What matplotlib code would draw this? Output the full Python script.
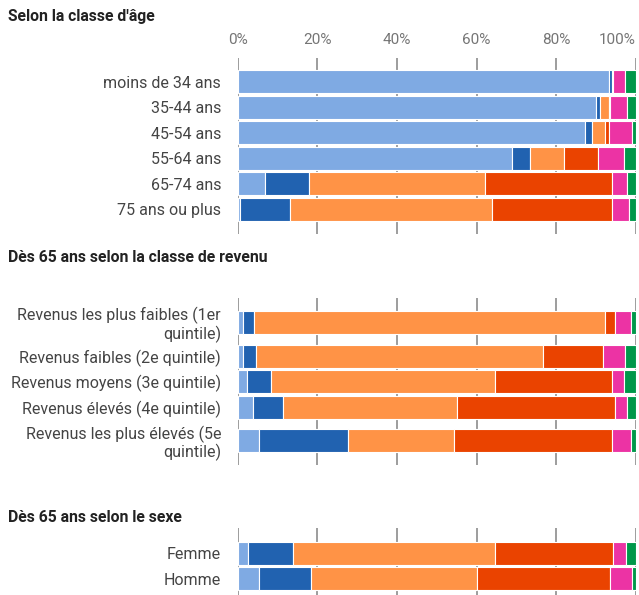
import numpy as np
import matplotlib.pyplot as plt

plt.rcParams['font.family'] = ['Roboto', 'DejaVu Sans']

colors = ["#7faae3", "#2162b0", "#ff9346", "#ea4300", "#ec33a4", "#00984a"]

age_labels = ["moins de 34 ans", "35-44 ans", "45-54 ans", "55-64 ans",
              "65-74 ans", "75 ans ou plus"]
age_values = [
    [93.1, 0.75, 0.35, 0.15, 3.0, 2.7],
    [90.0, 0.9, 2.3, 0.35, 4.3, 2.2],
    [87.1, 1.9, 3.2, 1.0, 5.8, 1.0],
    [68.9, 4.4, 8.7, 8.45, 6.6, 2.9],
    [6.9, 11.0, 44.2, 31.8, 3.85, 2.2],
    [0.6, 12.55, 50.7, 30.0, 4.5, 1.7],
]

income_labels = ["Revenus les plus faibles (1er\nquintile)",
                 "Revenus faibles (2e quintile)",
                 "Revenus moyens (3e quintile)",
                 "Revenus élevés (4e quintile)",
                 "Revenus les plus élevés (5e\nquintile)"]
income_values = [
    [1.4, 2.8, 88.0, 2.6, 4.0, 1.2],
    [1.3, 3.35, 72.1, 14.9, 5.6, 2.7],
    [2.4, 6.0, 56.15, 29.4, 3.1, 2.9],
    [3.9, 7.5, 43.7, 39.7, 3.0, 2.2],
    [5.4, 22.4, 26.5, 39.7, 4.7, 1.3],
]

sex_labels = ["Femme", "Homme"]
sex_values = [
    [2.7, 11.3, 50.6, 29.5, 3.5, 2.4],
    [5.4, 13.1, 41.5, 33.5, 5.6, 0.9],
]

tick_values = [0, 20, 40, 60, 80, 100]

W, H = 639, 595
fig = plt.figure(figsize=(W / 100, H / 100), dpi=100)


def section(title, title_y, top, bottom, labels, values, pad, top_ticks=False):
    fig.text(8 / W, 1 - title_y / H, title, fontsize=11.3, fontweight='bold',
             color='#222222', va='center', ha='left')
    left_px, right_px = 237.7, 636
    ax = fig.add_axes([left_px / W, 1 - bottom / H,
                       (right_px - left_px) / W, (bottom - top) / H])
    # y axis works in pixels so that rows keep a fixed height
    heights = np.array([42.0 if '\n' in lab else 25.4 for lab in labels])
    centers = top + pad + np.cumsum(heights) - heights / 2
    ax.set_ylim(bottom, top)
    ax.set_xlim(0, 100)

    vals = np.array(values)
    start = np.zeros(len(labels))
    for k in range(vals.shape[1]):
        ax.barh(centers, vals[:, k], left=start, height=23, color=colors[k],
                edgecolor='white', linewidth=0.8)
        start += vals[:, k]

    ax.set_yticks(centers, labels, fontsize=11.5, color='#444444')
    for lab in ax.get_yticklabels():
        lab.set_multialignment('right')
        lab.set_linespacing(1.1)
    ax.set_xticks(tick_values)
    ax.grid(axis='x', color='#8c8c8c', linewidth=1.2)
    ax.set_axisbelow(True)
    ax.tick_params(length=0)
    ax.tick_params(axis='y', pad=12)
    for sp in ax.spines.values():
        sp.set_visible(False)
    if top_ticks:
        ax.xaxis.tick_top()
        ax.set_xticklabels([f"{t}%" for t in tick_values], fontsize=11,
                           color='#757575')
        ax.tick_params(axis='x', pad=8)
        ax.get_xticklabels()[-1].set_ha('right')
    else:
        ax.set_xticklabels([])
    return ax


section("Selon la classe d'âge", 17, 58, 234, age_labels, age_values, 11.3,
        top_ticks=True)
section("Dès 65 ans selon la classe de revenu", 258, 298, 465,
        income_labels, income_values, 3.5)
section("Dès 65 ans selon le sexe", 518, 528, 604, sex_labels, sex_values, 12.8)

fig.savefig("out.png", dpi=100)
